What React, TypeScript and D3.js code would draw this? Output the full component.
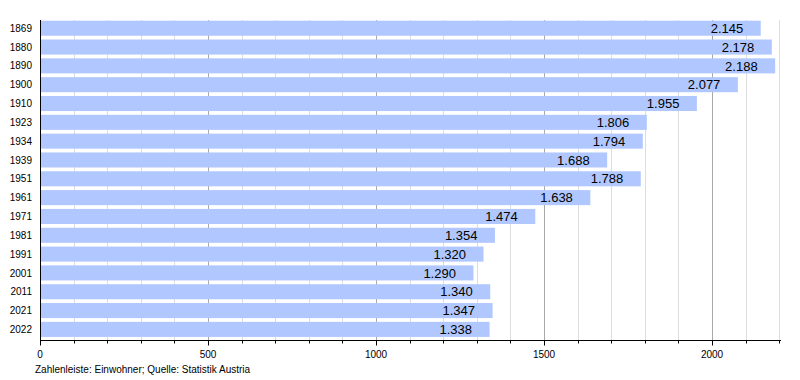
import React from "react";
import * as d3 from "d3";

const years = ["1869","1880","1890","1900","1910","1923","1934","1939","1951","1961","1971","1981","1991","2001","2011","2021","2022"];
const population = [2145,2178,2188,2077,1955,1806,1794,1688,1788,1638,1474,1354,1320,1290,1340,1347,1338];
const majorTicks = [0,500,1000,1500,2000];
const footer = "Zahlenleiste: Einwohner; Quelle: Statistik Austria";

export default function App() {
  const W = 800, H = 380;
  const x = d3.scaleLinear().domain([0, 2200]).range([40, 779.2]);
  const y = d3.scaleBand<string>().domain(years).range([18.8, 338.8]).paddingInner(0.2).paddingOuter(0.1);
  const top = 20, bottom = 340.5;
  const minor = d3.range(100, 2201, 100);
  const fmt = (v: number) => d3.format(",")(v).replace(/,/g, ".");
  const font = "'Liberation Sans', Arial, sans-serif";
  return (
    <svg width={W} height={H} style={{ position: "absolute", left: 0, top: 0 }} fontFamily={font}>
      <rect width={W} height={H} fill="#fff" />
      {minor.map(v => (
        <line key={"g" + v} x1={Math.round(x(v)) + 0.5} x2={Math.round(x(v)) + 0.5} y1={top} y2={bottom}
          stroke={v % 500 === 0 ? "#a8a8a8" : "#dddddd"} strokeWidth={1} />
      ))}
      {years.map((yr, i) => (
        <rect key={"b" + yr} x={x(0)} y={y(yr)!} width={x(population[i]) - x(0)} height={y.bandwidth()} fill="#b0c8ff" />
      ))}
      {years.map((yr, i) => (
        <text key={"v" + yr} x={x(population[i]) - 17.5} y={y(yr)! + y.bandwidth() / 2} dy="0.36em"
          textAnchor="end" fontSize={13} fill="#000">{fmt(population[i])}</text>
      ))}
      {years.map(yr => (
        <text key={"y" + yr} x={32} y={y(yr)! + y.bandwidth() / 2} dy="0.36em" textAnchor="end" fontSize={10} fill="#000">{yr}</text>
      ))}
      <line x1={40.5} x2={40.5} y1={top} y2={bottom} stroke="#000" />
      <line x1={40} x2={781} y1={bottom} y2={bottom} stroke="#000" />
      {[0, ...minor].map(v => (
        <line key={"t" + v} x1={Math.round(x(v)) + 0.5} x2={Math.round(x(v)) + 0.5} y1={bottom} y2={bottom + (v % 500 === 0 ? 5 : 3)} stroke="#000" />
      ))}
      {majorTicks.map(v => (
        <text key={"l" + v} x={x(v)} y={358} textAnchor="middle" fontSize={10} fill="#000">{v}</text>
      ))}
      <text x={35} y={373} fontSize={10} fill="#000">{footer}</text>
    </svg>
  );
}
